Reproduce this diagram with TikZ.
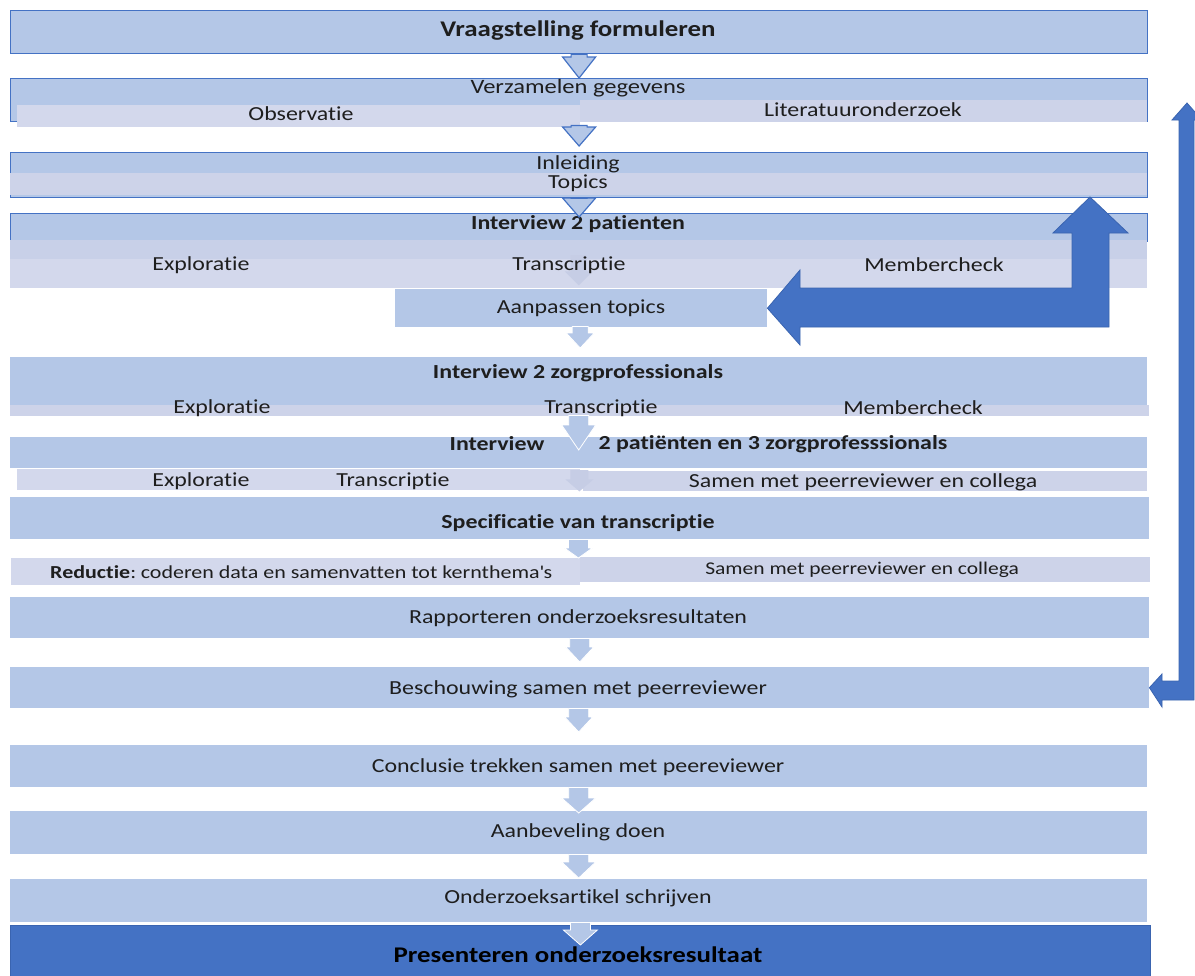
\documentclass[tikz,border=0pt]{standalone}
\usepackage{fontspec}
\setmainfont[FakeStretch=1.2, Ligatures={NoCommon}]{Carlito}
\usetikzlibrary{calc}
\definecolor{lb}{HTML}{B4C7E7}
\definecolor{lav}{HTML}{CDD3E9}
\definecolor{lavb}{HTML}{D3D8EC}
\definecolor{lavt}{HTML}{C8D0E8}
\definecolor{faint}{HTML}{C6CDE5}
\definecolor{db}{HTML}{4472C4}
\definecolor{dbo}{HTML}{3A64B0}
\definecolor{txt}{HTML}{1E1E1E}
\newcommand\dnarrow[6]{%
  \path[#1] let \p1=(#2), \p2=(#3) in
    (\x2-#4,\y1) -- (\x2+#4,\y1) -- (\x2+#4,\y2+#6) -- (\x2+#5,\y2+#6) --
    (\x2,\y2) -- (\x2-#5,\y2+#6) -- (\x2-#4,\y2+#6) -- cycle;}
\tikzset{
  box/.style={fill=lb, draw=none, inner sep=0pt, anchor=north west},
  bbox/.style={box, draw=db, line width=1.2bp},
  band/.style={fill=lav, draw=none, inner sep=0pt, anchor=north west},
  lbl/.style={text=txt, inner sep=0pt, font=\fontsize{20}{24}\selectfont},
  blbl/.style={text=txt, inner sep=0pt, font=\fontsize{20}{24}\selectfont\bfseries},
  bigblbl/.style={text=txt, inner sep=0pt, font=\fontsize{22.5}{26}\selectfont\bfseries},
  slbl/.style={text=txt, inner sep=0pt, font=\fontsize{18}{21}\selectfont},
  outarrow/.style={fill=lb, draw=db, line width=1.2bp, line join=miter},
  solarrow/.style={fill=lb, draw=white, line width=0.8bp, line join=miter},
  faintarrow/.style={fill=faint, draw=none},
  bigarrow/.style={fill=db, draw=dbo, line width=0.8bp, line join=miter},
}
\begin{document}
\begin{tikzpicture}[x=1bp, y=-1bp]
\useasboundingbox (0,0) rectangle (1195,976);
\clip (0,0) rectangle (1195,976);
\fill[white] (0,0) rectangle (1195,976);

% Row A
\node[bbox, minimum width=1137bp, minimum height=43bp] (A) at (10,10) {};
\node[bigblbl] (tA) at (578,31) {Vraagstelling formuleren};

% Row B
\node[bbox, minimum width=1137bp, minimum height=43bp] (B) at (10,78) {};
\node[lbl, font=\fontsize{20.5}{24}\selectfont] (tB) at (578,88) {Verzamelen gegevens};
\node[band, fill=lavb, minimum width=563bp, minimum height=22bp] (Bobs) at (17,105) {};
\node[band, minimum width=567bp, minimum height=22bp] (Blit) at (580,100) {};
\node[lbl] (tBobs) at (301,114) {Observatie};
\node[lbl] (tBlit) at (863,110) {Literatuuronderzoek};
\dnarrow{outarrow}{A.south}{B.north}{8bp}{16.5bp}{21bp}

% Row C
\node[bbox, minimum width=1137bp, minimum height=45bp] (C) at (10,152) {};
\node[band, minimum width=1137bp, minimum height=22bp] (Cband) at (10,173) {};
\node[lbl] (tC1) at (578,164) {Inleiding};
\node[lbl] (tC2) at (578,183) {Topics};
\dnarrow{outarrow}{$(Bobs.south)+(0,-2)$}{$(C.north)+(0,-6)$}{8bp}{16.5bp}{19bp}

% Row D
\node[bbox, minimum width=1137bp, minimum height=28bp] (D) at (10,213) {};
\node[band, fill=lavt, minimum width=1137bp, minimum height=19bp] (Dband1) at (10,240) {};
\node[band, fill=lavb, minimum width=1137bp, minimum height=29bp] (Dband2) at (10,259) {};
\dnarrow{faintarrow}{$(Dband2.north)+(0,-4)$}{$(Dband2.south)+(0,-3)$}{8bp}{14bp}{14bp}
\node[blbl] (tD) at (578,224) {Interview 2 patienten};
\node[lbl] (tD1) at (201,265) {Exploratie};
\node[lbl] (tD2) at (569,265) {Transcriptie};
\node[lbl] (tD3) at (934,265) {Membercheck};
\dnarrow{outarrow}{C.south}{$(D.north)+(0,4)$}{8bp}{16.5bp}{19bp}

% Row E
\node[box, minimum width=372bp, minimum height=38bp] (E) at (395,289) {};
\node[lbl] (tE) at (581,308) {Aanpassen topics};

% Row F
\node[box, minimum width=1137bp, minimum height=48bp] (F) at (10,357) {};
\node[band, minimum width=1139bp, minimum height=11bp] (Fband) at (10,405) {};
\node[blbl] (tF) at (578,373) {Interview 2 zorgprofessionals};
\node[lbl] (tF1) at (222,408) {Exploratie};
\node[lbl] (tF2) at (601,408) {Transcriptie};
\node[lbl] (tF3) at (913,408) {Membercheck};
\dnarrow{solarrow}{$(E.south)+(0,-1)$}{$(F.north)+(1.5,-9)$}{8bp}{14bp}{15bp}

% Row G
\node[box, minimum width=1137bp, minimum height=31bp] (G) at (10,437) {};
\dnarrow{solarrow}{$(Fband.south)+(0,-1)$}{$(G.north)+(0,13)$}{10bp}{17bp}{25bp}
\node[blbl] (tG1) at (497,444) {Interview};
\node[blbl] (tG2) at (773,444) {2 patiënten en 3 zorgprofesssionals};
\node[band, fill=lavb, minimum width=563bp, minimum height=21bp] (Gband1) at (17,469) {};
\node[band, minimum width=564bp, minimum height=20bp] (Gband2) at (583,471) {};
\dnarrow{faintarrow}{$(Gband1.north east)+(-1,1)$}{$(Gband1.south east)+(-1,1)$}{9bp}{14bp}{12bp}
\node[lbl] (tG3) at (201,481) {Exploratie};
\node[lbl] (tG4) at (393,481) {Transcriptie};
\node[lbl] (tG5) at (863,482) {Samen met peerreviewer en collega};

% Row H
\node[box, minimum width=1139bp, minimum height=42bp] (H) at (10,497) {};
\node[blbl] (tH) at (578,523) {Specificatie van transcriptie};

% Row I
\node[band, fill=lavb, minimum width=569bp, minimum height=27bp] (I1) at (11,558) {};
\node[band, minimum width=570bp, minimum height=25bp] (I2) at (580,557) {};
\node[slbl, anchor=west, font=\fontsize{18.4}{21}\selectfont] (tI1) at (50,572) {\textbf{Reductie}:\hspace{-2bp} coderen data en samenvatten tot kernthema\textquotesingle s};
\node[slbl] (tI2) at (862,570) {Samen met peerreviewer en collega};
\dnarrow{solarrow}{H.south}{$(I1.north east)+(-2,0)$}{10bp}{14bp}{10bp}

% Row J, K
\node[box, minimum width=1139bp, minimum height=41bp] (J) at (10,597) {};
\node[lbl] (tJ) at (578,618) {Rapporteren onderzoeksresultaten};
\node[box, minimum width=1139bp, minimum height=41bp] (K) at (10,667) {};
\node[lbl] (tK) at (578,689) {Beschouwing samen met peerreviewer};
\dnarrow{solarrow}{J.south}{$(K.north)+(0,-5)$}{10bp}{14bp}{15bp}

% Row L, M, N
\node[box, minimum width=1137bp, minimum height=42bp] (L) at (10,745) {};
\node[lbl] (tL) at (578,767) {Conclusie trekken samen met peereviewer};
\dnarrow{solarrow}{K.south}{$(L.north)+(0,-13)$}{10bp}{14bp}{15bp}
\node[box, minimum width=1137bp, minimum height=43bp] (M) at (10,811) {};
\node[lbl] (tM) at (578,832) {Aanbeveling doen};
\dnarrow{solarrow}{L.south}{$(M.north)+(0,2)$}{10bp}{17bp}{15bp}
\node[box, minimum width=1137bp, minimum height=43bp] (N) at (10,879) {};
\node[lbl] (tN) at (578,898) {Onderzoeksartikel schrijven};
\dnarrow{solarrow}{M.south}{$(N.north)+(0,-1)$}{10bp}{17bp}{16bp}

% Row O
\node[box, fill=db, draw=dbo, line width=0.8bp, minimum width=1140bp, minimum height=60bp] (O) at (10,925) {};
\node[bigblbl, text=black] (tO) at (578,955) {Presenteren onderzoeksresultaat};
\dnarrow{solarrow}{N.south}{$(O.north)+(0,20)$}{10bp}{17bp}{15bp}

% Feedback U-arrow
\path[bigarrow] (1090,197) -- (1128,233) -- (1109,233) -- (1109,327) -- (800,327) --
  (800,345) -- (E.east) -- (800,270) -- (800,288) -- (1072,288) -- (1072,233) --
  (1053,233) -- cycle;

% Long arrow on the right
\path[bigarrow] (1187,103) -- (1202,120) -- (1194,120) -- (1194,700) -- (1162,700) --
  (1162,707) -- (K.east) -- (1162,674) -- (1162,681) -- (1179,681) -- (1179,120) --
  (1172,120) -- cycle;
\end{tikzpicture}
\end{document}
